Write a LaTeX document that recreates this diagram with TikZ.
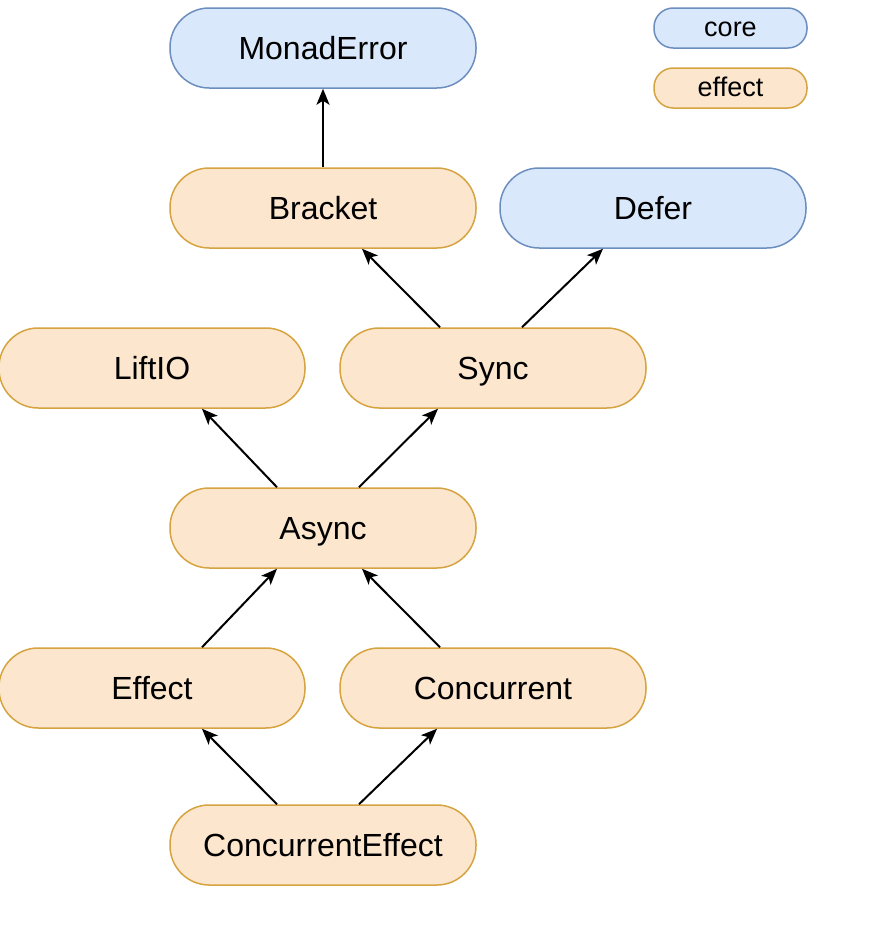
\documentclass[tikz,border=0pt]{standalone}
\usepackage{fontspec}
\setmainfont{Liberation Sans}
\usepackage{tikz}
\usetikzlibrary{arrows.meta}
\definecolor{corefill}{HTML}{DAE8FC}
\definecolor{coredraw}{HTML}{6C8EBF}
\definecolor{efffill}{HTML}{FCE6CD}
\definecolor{effdraw}{HTML}{D5A340}
\tikzset{
    pill/.style={rectangle, rounded corners=19.6pt, minimum width=153pt, minimum height=40pt, inner sep=0pt, line width=0.75pt, text height=11.5pt, text depth=0pt, font=\fontsize{16}{18}\selectfont},
    core/.style={pill, draw=coredraw, fill=corefill},
    effect/.style={pill, draw=effdraw, fill=efffill},
    key/.style={minimum width=76.5pt, minimum height=20pt, rounded corners=9.6pt, text height=8.5pt, font=\fontsize{13.5}{15}\selectfont},
    link/.style={-{Stealth[length=8pt, width=6.5pt, inset=2pt]}, line width=1pt}
}
\begin{document}
\begin{tikzpicture}[x=0.5pt, y=-0.5pt]
    \useasboundingbox (0,0) rectangle (884,938);

    % Level I
    \node(100) at (323,48) [core] {MonadError};

    % Level II
    \node(200) at (323,208) [effect] {Bracket};
    \node(201) at (653,208) [core] {Defer};
    \draw [link] (200) -- (100);

    % Level III
    \node(300) at (152,368) [effect] {LiftIO};
    \node(301) at (493,368) [effect] {Sync};
    \draw [link] ([xshift=-26.5pt]301.north) -- ([xshift=19.5pt]200.south);
    \draw [link] ([xshift=14.5pt]301.north) -- ([xshift=-25pt]201.south);

    % Level IV
    \node(400) at (323,528) [effect] {Async};
    \draw [link] ([xshift=-23pt]400.north) -- ([xshift=25pt]300.south);
    \draw [link] ([xshift=18pt]400.north) -- ([xshift=-27.5pt]301.south);

    % Level V
    \node(500) at (152,688) [effect] {Effect};
    \node(501) at (493,688) [effect] {Concurrent};
    \draw [link] ([xshift=25pt]500.north) -- ([xshift=-23pt]400.south);
    \draw [link] ([xshift=-26.5pt]501.north) -- ([xshift=19.5pt]400.south);

    % Level VI
    \node(600) at (323,845) [effect] {ConcurrentEffect};
    \draw [link] ([xshift=-23pt]600.north) -- ([xshift=25pt]500.south);
    \draw [link] ([xshift=18pt]600.north) -- ([xshift=-28pt]501.south);

    % Legend
    \node(901) at (730.5,28) [core, key] {core};
    \node(902) at (730.5,88) [effect, key] {effect};

\end{tikzpicture}
\end{document}
